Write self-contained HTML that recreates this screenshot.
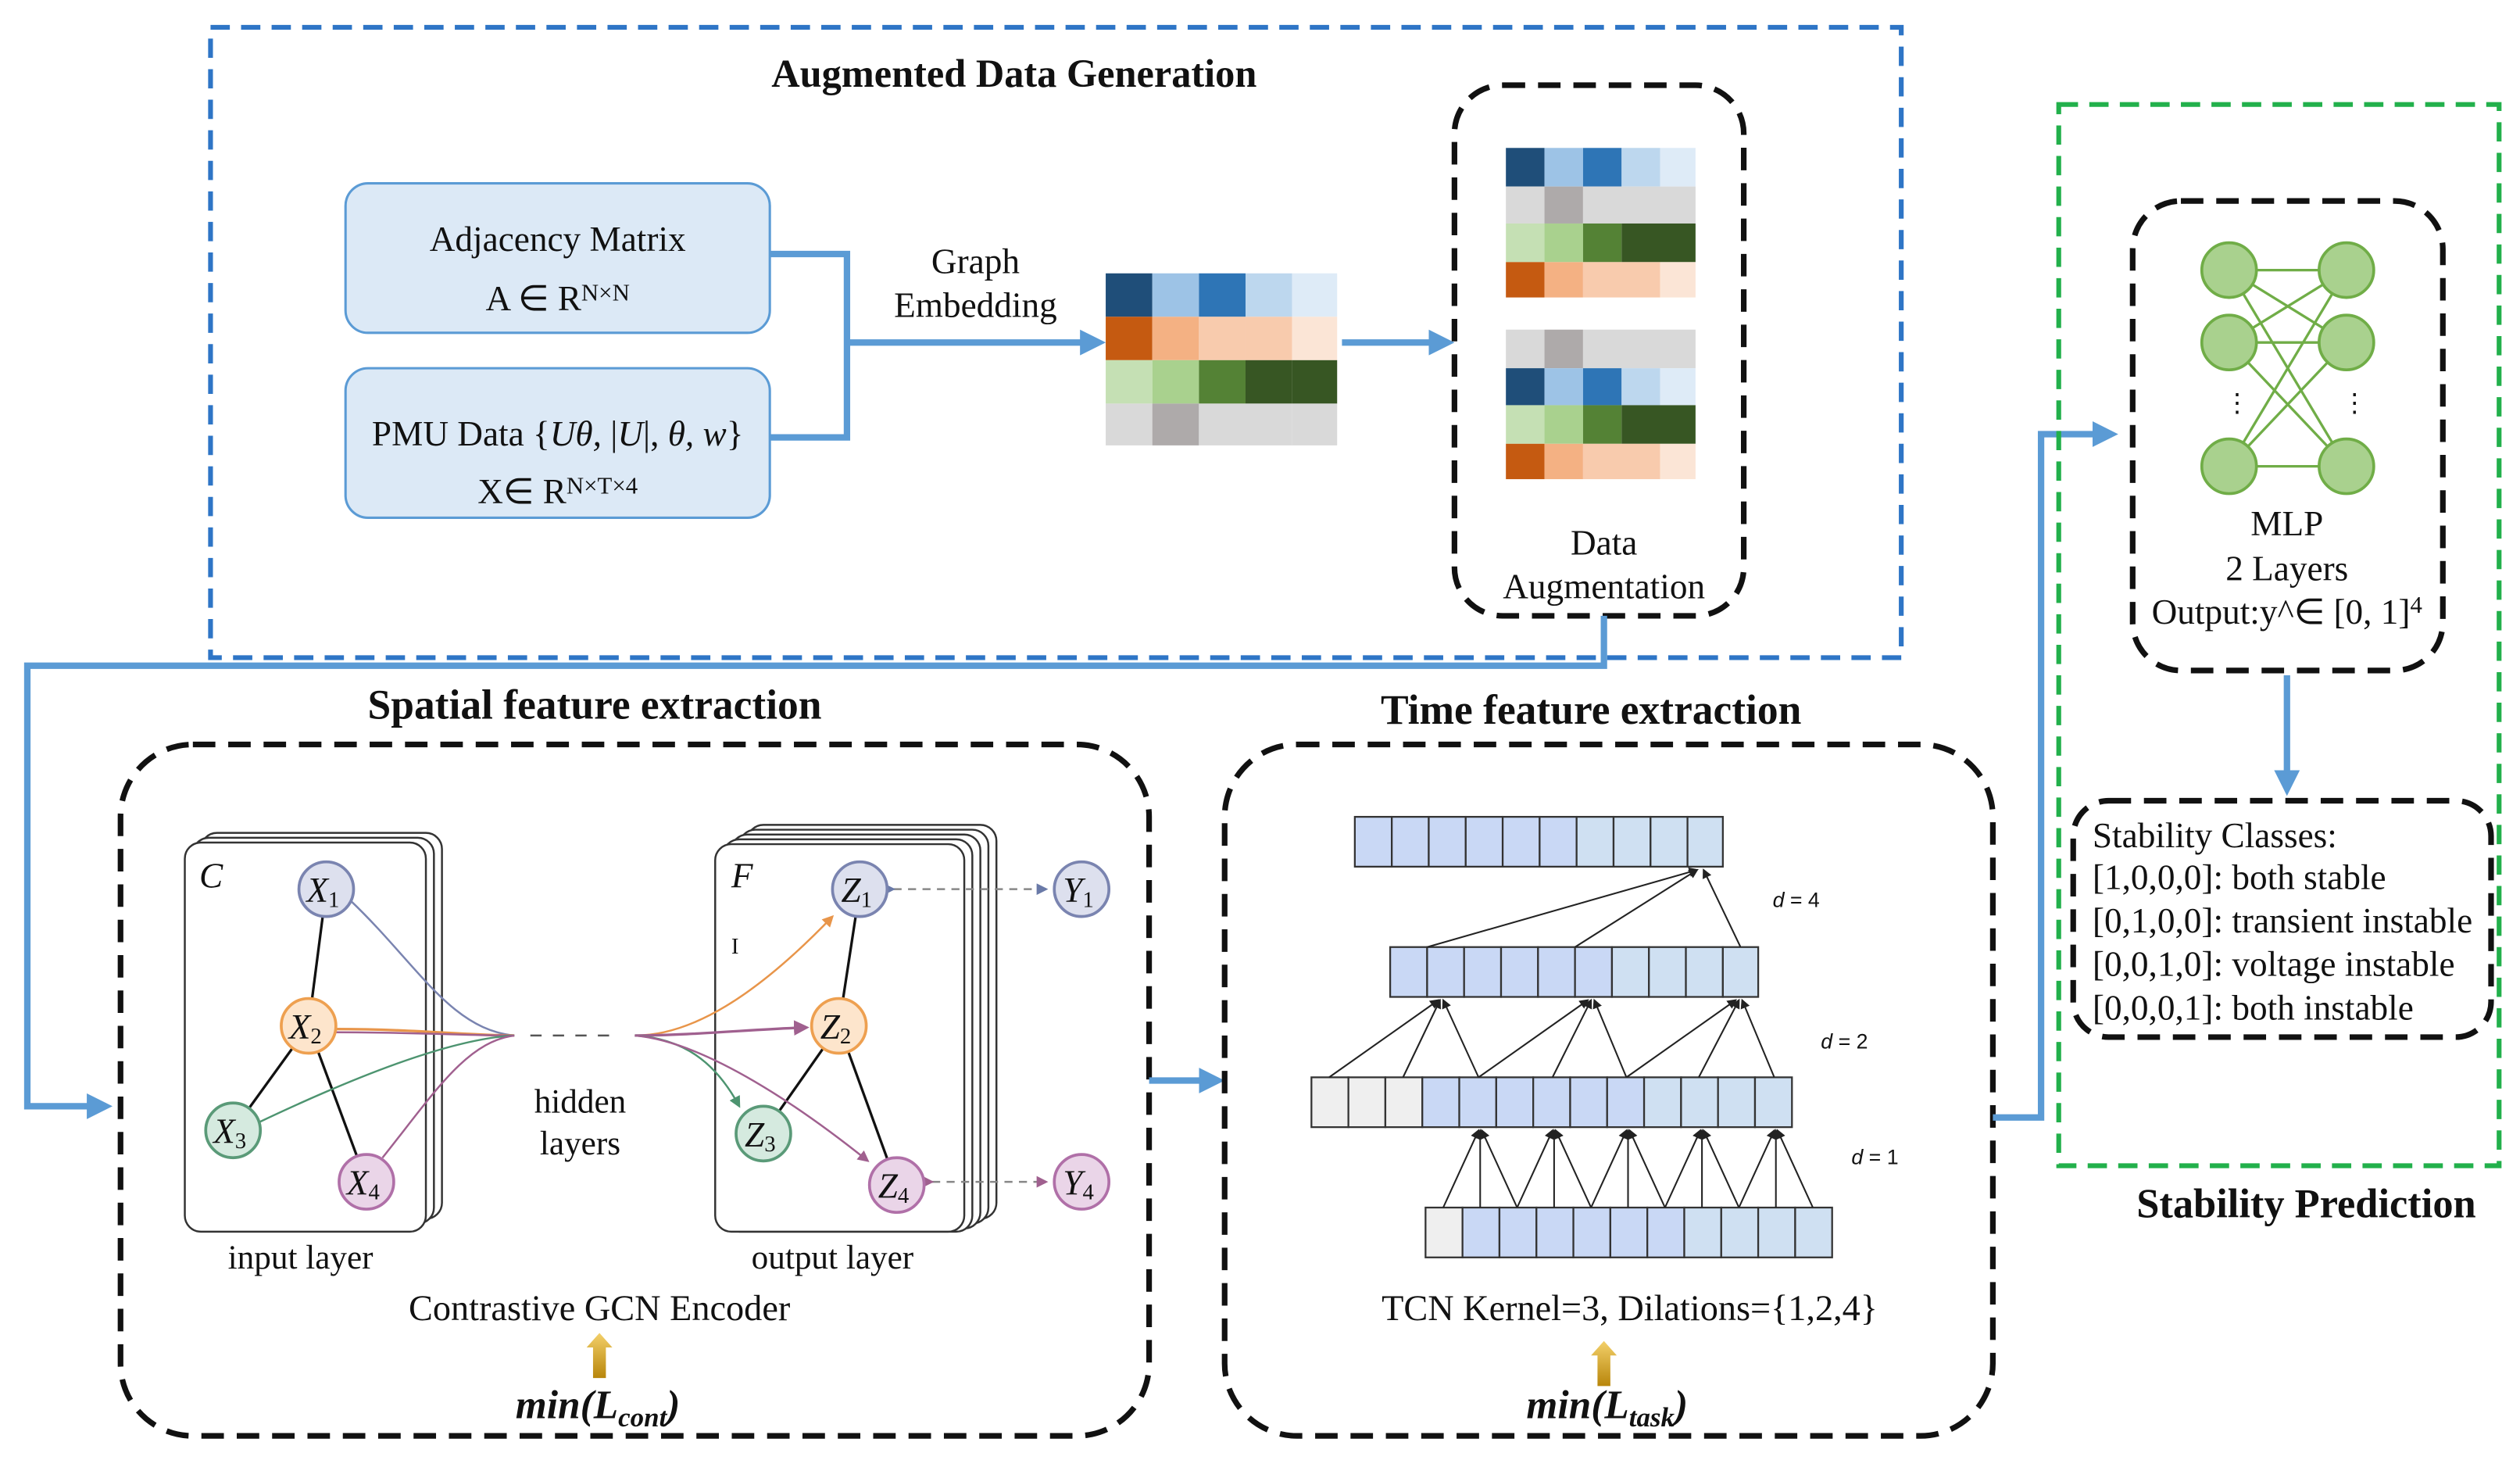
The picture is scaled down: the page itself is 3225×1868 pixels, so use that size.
<!DOCTYPE html>
<html><head><meta charset="utf-8"><style>
html,body{margin:0;padding:0;background:#fff;}
svg{display:block;}
text{font-family:"Liberation Serif","Times New Roman",serif;fill:#111;}
.b{font-weight:bold;}
</style></head><body>
<svg width="3225" height="1868" viewBox="0 0 1568 908" preserveAspectRatio="none" xmlns="http://www.w3.org/2000/svg" font-family="Liberation Serif, serif">
<defs>
<marker id="ab" markerWidth="4" markerHeight="4" refX="3" refY="2" orient="auto"><path d="M0,0 L4,2 L0,4z" fill="#5b9bd5"/></marker>
<marker id="ak" markerWidth="6" markerHeight="6" refX="5" refY="3" orient="auto"><path d="M0,0 L6,3 L0,6z" fill="#222"/></marker>
<marker id="ao" markerWidth="6" markerHeight="6" refX="5" refY="3" orient="auto"><path d="M0,0 L6,3 L0,6z" fill="#e8954a"/></marker>
<marker id="ap" markerWidth="6" markerHeight="6" refX="5" refY="3" orient="auto"><path d="M0,0 L6,3 L0,6z" fill="#a0608f"/></marker>
<marker id="ag" markerWidth="6" markerHeight="6" refX="5" refY="3" orient="auto"><path d="M0,0 L6,3 L0,6z" fill="#4d9470"/></marker>
<marker id="as" markerWidth="6" markerHeight="6" refX="5" refY="3" orient="auto"><path d="M0,0 L6,3 L0,6z" fill="#6a7aa8"/></marker>
<linearGradient id="gold" x1="0" y1="0" x2="0" y2="1"><stop offset="0" stop-color="#f3d06a"/><stop offset="1" stop-color="#b8860b"/></linearGradient>
</defs>

<!-- Augmented Data Generation -->
<rect x="131" y="17" width="1052" height="392" fill="none" stroke="#2e75c6" stroke-width="3" stroke-dasharray="12,7"/>
<text x="631" y="54" font-size="24.5" class="b" text-anchor="middle">Augmented Data Generation</text>

<rect x="215" y="114" width="264" height="93" rx="14" fill="#dce9f6" stroke="#5b9bd5" stroke-width="1.5"/>
<text x="347" y="156" font-size="22" text-anchor="middle">Adjacency Matrix</text>
<text x="347" y="193" font-size="22" text-anchor="middle">A ∈ R<tspan font-size="15" dy="-6">N×N</tspan></text>
<rect x="215" y="229" width="264" height="93" rx="14" fill="#dce9f6" stroke="#5b9bd5" stroke-width="1.5"/>
<text x="347" y="277" font-size="22" text-anchor="middle">PMU Data {<tspan font-style="italic">Uθ,</tspan> |<tspan font-style="italic">U</tspan>|,  <tspan font-style="italic">θ, w</tspan>}</text>
<text x="347" y="313" font-size="22" text-anchor="middle">X∈ R<tspan font-size="15" dy="-6">N×T×4</tspan></text>

<path d="M479,158 H527 V272 H479" fill="none" stroke="#5b9bd5" stroke-width="4"/>
<path d="M527,213 H684" fill="none" stroke="#5b9bd5" stroke-width="4" marker-end="url(#ab)"/>
<text x="607" y="170" font-size="22" text-anchor="middle">Graph</text>
<text x="607" y="197" font-size="22" text-anchor="middle">Embedding</text>

<g>
<rect x="688" y="170" width="29" height="27" fill="#1f4e79"/><rect x="717" y="170" width="29" height="27" fill="#9dc3e6"/><rect x="746" y="170" width="29" height="27" fill="#2e75b6"/><rect x="775" y="170" width="29" height="27" fill="#bdd7ee"/><rect x="804" y="170" width="28" height="27" fill="#deebf7"/>
<rect x="688" y="197" width="29" height="27" fill="#c55a11"/><rect x="717" y="197" width="29" height="27" fill="#f4b183"/><rect x="746" y="197" width="29" height="27" fill="#f8cbad"/><rect x="775" y="197" width="29" height="27" fill="#f8cbad"/><rect x="804" y="197" width="28" height="27" fill="#fbe5d6"/>
<rect x="688" y="224" width="29" height="27" fill="#c5e0b4"/><rect x="717" y="224" width="29" height="27" fill="#a9d18e"/><rect x="746" y="224" width="29" height="27" fill="#548235"/><rect x="775" y="224" width="29" height="27" fill="#375623"/><rect x="804" y="224" width="28" height="27" fill="#375623"/>
<rect x="688" y="251" width="29" height="26" fill="#d9d9d9"/><rect x="717" y="251" width="29" height="26" fill="#aeaaaa"/><rect x="746" y="251" width="29" height="26" fill="#d9d9d9"/><rect x="775" y="251" width="29" height="26" fill="#d9d9d9"/><rect x="804" y="251" width="28" height="26" fill="#d9d9d9"/>
</g>
<path d="M835,213 H901" fill="none" stroke="#5b9bd5" stroke-width="4" marker-end="url(#ab)"/>

<rect x="905" y="53" width="180" height="330" rx="30" fill="none" stroke="#111" stroke-width="3.5" stroke-dasharray="14,8"/>
<g>
<rect x="937" y="92" width="24" height="24" fill="#1f4e79"/><rect x="961" y="92" width="24" height="24" fill="#9dc3e6"/><rect x="985" y="92" width="24" height="24" fill="#2e75b6"/><rect x="1009" y="92" width="24" height="24" fill="#bdd7ee"/><rect x="1033" y="92" width="22" height="24" fill="#deebf7"/>
<rect x="937" y="116" width="24" height="23" fill="#d9d9d9"/><rect x="961" y="116" width="24" height="23" fill="#aeaaaa"/><rect x="985" y="116" width="70" height="23" fill="#d9d9d9"/>
<rect x="937" y="139" width="24" height="24" fill="#c5e0b4"/><rect x="961" y="139" width="24" height="24" fill="#a9d18e"/><rect x="985" y="139" width="24" height="24" fill="#548235"/><rect x="1009" y="139" width="46" height="24" fill="#375623"/>
<rect x="937" y="163" width="24" height="22" fill="#c55a11"/><rect x="961" y="163" width="24" height="22" fill="#f4b183"/><rect x="985" y="163" width="48" height="22" fill="#f8cbad"/><rect x="1033" y="163" width="22" height="22" fill="#fbe5d6"/>
<rect x="937" y="205" width="24" height="24" fill="#d9d9d9"/><rect x="961" y="205" width="24" height="24" fill="#aeaaaa"/><rect x="985" y="205" width="70" height="24" fill="#d9d9d9"/>
<rect x="937" y="229" width="24" height="23" fill="#1f4e79"/><rect x="961" y="229" width="24" height="23" fill="#9dc3e6"/><rect x="985" y="229" width="24" height="23" fill="#2e75b6"/><rect x="1009" y="229" width="24" height="23" fill="#bdd7ee"/><rect x="1033" y="229" width="22" height="23" fill="#deebf7"/>
<rect x="937" y="252" width="24" height="24" fill="#c5e0b4"/><rect x="961" y="252" width="24" height="24" fill="#a9d18e"/><rect x="985" y="252" width="24" height="24" fill="#548235"/><rect x="1009" y="252" width="46" height="24" fill="#375623"/>
<rect x="937" y="276" width="24" height="22" fill="#c55a11"/><rect x="961" y="276" width="24" height="22" fill="#f4b183"/><rect x="985" y="276" width="48" height="22" fill="#f8cbad"/><rect x="1033" y="276" width="22" height="22" fill="#fbe5d6"/>
</g>
<text x="998" y="345" font-size="22" text-anchor="middle">Data</text>
<text x="998" y="372" font-size="22" text-anchor="middle">Augmentation</text>

<path d="M998,383 V414 H17 V688 H66" fill="none" stroke="#5b9bd5" stroke-width="4" marker-end="url(#ab)"/>

<!-- Spatial -->
<text x="370" y="447" font-size="26" class="b" text-anchor="middle">Spatial feature extraction</text>
<rect x="75" y="463" width="640" height="430" rx="45" fill="none" stroke="#111" stroke-width="3.5" stroke-dasharray="14,8"/>

<g fill="#fff" stroke="#333" stroke-width="1.2">
<rect x="125" y="518" width="150" height="240" rx="10"/>
<rect x="120" y="521" width="150" height="240" rx="10"/>
<rect x="115" y="524" width="150" height="242" rx="10"/>
<rect x="465" y="513" width="155" height="245" rx="10"/>
<rect x="460" y="516" width="155" height="245" rx="10"/>
<rect x="455" y="519" width="155" height="245" rx="10"/>
<rect x="450" y="522" width="155" height="244" rx="10"/>
<rect x="445" y="525" width="155" height="241" rx="10"/>
</g>
<text x="124" y="552" font-size="22" font-style="italic">C</text>
<text x="455" y="552" font-size="22" font-style="italic">F</text>
<text x="455" y="593" font-size="14">I</text>
<g fill="none" stroke="#111" stroke-width="1.6">
<line x1="203" y1="553" x2="192" y2="638"/><line x1="192" y1="638" x2="145" y2="703"/><line x1="192" y1="638" x2="228" y2="735"/>
<line x1="535" y1="553" x2="522" y2="638"/><line x1="522" y1="638" x2="475" y2="705"/><line x1="522" y1="638" x2="558" y2="737"/>
</g>
<g fill="none" stroke-width="1.2">
<path d="M218,560 C260,600 280,640 320,644" stroke="#7a84b0"/>
<path d="M209,640 C260,640 290,644 320,644" stroke="#e8954a" stroke-width="1.6"/>
<path d="M209,642 C260,642 290,644 320,644" stroke="#a0608f"/>
<path d="M161,698 C220,670 280,646 320,644" stroke="#4d9470"/>
<path d="M238,720 C270,680 290,648 320,644" stroke="#a0608f"/>
<path d="M330,644 H385" stroke="#555" stroke-dasharray="7,7"/>
<path d="M395,644 C430,644 470,620 518,570" stroke="#e8954a" marker-end="url(#ao)"/>
<path d="M395,644 C430,644 470,640 502,639" stroke="#a0608f" stroke-width="1.6" marker-end="url(#ap)"/>
<path d="M395,644 C425,646 445,660 460,688" stroke="#4d9470" marker-end="url(#ag)"/>
<path d="M395,644 C440,648 500,690 540,722" stroke="#a0608f" marker-end="url(#ap)"/>
<path d="M556,553 H651" stroke="#888" stroke-dasharray="5,4" marker-start="url(#as)" marker-end="url(#as)"/>
<path d="M580,735 H651" stroke="#888" stroke-dasharray="5,4" marker-start="url(#ap)" marker-end="url(#ap)"/>
</g>
<g stroke-width="1.8">
<circle cx="203" cy="553" r="17" fill="#dde0ee" stroke="#7a84b0"/>
<circle cx="192" cy="638" r="17" fill="#fde5cc" stroke="#eea050"/>
<circle cx="145" cy="703" r="17" fill="#d5eadf" stroke="#5a9a78"/>
<circle cx="228" cy="735" r="17" fill="#ead5e8" stroke="#b070a8"/>
<circle cx="535" cy="553" r="17" fill="#dde0ee" stroke="#7a84b0"/>
<circle cx="522" cy="638" r="17" fill="#fde5cc" stroke="#eea050"/>
<circle cx="475" cy="705" r="17" fill="#d5eadf" stroke="#5a9a78"/>
<circle cx="558" cy="737" r="17" fill="#ead5e8" stroke="#b070a8"/>
<circle cx="673" cy="553" r="17" fill="#dde0ee" stroke="#7a84b0"/>
<circle cx="673" cy="735" r="17" fill="#ead5e8" stroke="#b070a8"/>
</g>
<g font-size="22" font-style="italic" text-anchor="middle">
<text x="201" y="561">X<tspan font-size="14" font-style="normal" dy="3">1</tspan></text>
<text x="190" y="646">X<tspan font-size="14" font-style="normal" dy="3">2</tspan></text>
<text x="143" y="711">X<tspan font-size="14" font-style="normal" dy="3">3</tspan></text>
<text x="226" y="743">X<tspan font-size="14" font-style="normal" dy="3">4</tspan></text>
<text x="533" y="561">Z<tspan font-size="14" font-style="normal" dy="3">1</tspan></text>
<text x="520" y="646">Z<tspan font-size="14" font-style="normal" dy="3">2</tspan></text>
<text x="473" y="713">Z<tspan font-size="14" font-style="normal" dy="3">3</tspan></text>
<text x="556" y="745">Z<tspan font-size="14" font-style="normal" dy="3">4</tspan></text>
<text x="671" y="561">Y<tspan font-size="14" font-style="normal" dy="3">1</tspan></text>
<text x="671" y="743">Y<tspan font-size="14" font-style="normal" dy="3">4</tspan></text>
</g>
<text x="361" y="692" font-size="21" text-anchor="middle" fill="#333">hidden</text>
<text x="361" y="718" font-size="21" text-anchor="middle" fill="#333">layers</text>
<text x="187" y="789" font-size="21" text-anchor="middle" fill="#333">input  layer</text>
<text x="518" y="789" font-size="21" text-anchor="middle" fill="#333">output  layer</text>
<text x="373" y="821" font-size="22.5" text-anchor="middle">Contrastive GCN Encoder</text>
<path d="M373,829 L381,838 H377 V857 H369 V838 H365 Z" fill="url(#gold)"/>
<text x="372" y="882" font-size="25" font-style="italic" class="b" text-anchor="middle">min(L<tspan font-size="17" dy="5">cont</tspan><tspan dy="-5">)</tspan></text>

<path d="M715,672 H758" fill="none" stroke="#5b9bd5" stroke-width="4" marker-end="url(#ab)"/>

<!-- Time -->
<text x="990" y="450" font-size="26" class="b" text-anchor="middle">Time feature extraction</text>
<rect x="762" y="463" width="478" height="430" rx="45" fill="none" stroke="#111" stroke-width="3.5" stroke-dasharray="14,8"/>
<g stroke="#333" stroke-width="1.1">
<g fill="#c9d8f5">
<rect x="843" y="508" width="23" height="31"/><rect x="866" y="508" width="23" height="31"/><rect x="889" y="508" width="23" height="31"/><rect x="912" y="508" width="23" height="31"/><rect x="935" y="508" width="23" height="31"/><rect x="958" y="508" width="23" height="31"/>
</g>
<g fill="#cfe0f2"><rect x="981" y="508" width="23" height="31"/><rect x="1004" y="508" width="23" height="31"/><rect x="1027" y="508" width="23" height="31"/><rect x="1050" y="508" width="22" height="31"/></g>
<g fill="#c9d8f5">
<rect x="865" y="589" width="23" height="31"/><rect x="888" y="589" width="23" height="31"/><rect x="911" y="589" width="23" height="31"/><rect x="934" y="589" width="23" height="31"/><rect x="957" y="589" width="23" height="31"/><rect x="980" y="589" width="23" height="31"/>
</g>
<g fill="#cfe0f2"><rect x="1003" y="589" width="23" height="31"/><rect x="1026" y="589" width="23" height="31"/><rect x="1049" y="589" width="23" height="31"/><rect x="1072" y="589" width="22" height="31"/></g>
<g fill="#efefef"><rect x="816" y="670" width="23" height="31"/><rect x="839" y="670" width="23" height="31"/><rect x="862" y="670" width="23" height="31"/></g>
<g fill="#c9d8f5"><rect x="885" y="670" width="23" height="31"/><rect x="908" y="670" width="23" height="31"/><rect x="931" y="670" width="23" height="31"/><rect x="954" y="670" width="23" height="31"/><rect x="977" y="670" width="23" height="31"/><rect x="1000" y="670" width="23" height="31"/></g>
<g fill="#cfe0f2"><rect x="1023" y="670" width="23" height="31"/><rect x="1046" y="670" width="23" height="31"/><rect x="1069" y="670" width="23" height="31"/><rect x="1092" y="670" width="23" height="31"/></g>
<g fill="#efefef"><rect x="887" y="751" width="23" height="31"/></g>
<g fill="#c9d8f5"><rect x="910" y="751" width="23" height="31"/><rect x="933" y="751" width="23" height="31"/><rect x="956" y="751" width="23" height="31"/><rect x="979" y="751" width="23" height="31"/><rect x="1002" y="751" width="23" height="31"/><rect x="1025" y="751" width="23" height="31"/></g>
<g fill="#cfe0f2"><rect x="1048" y="751" width="23" height="31"/><rect x="1071" y="751" width="23" height="31"/><rect x="1094" y="751" width="23" height="31"/><rect x="1117" y="751" width="23" height="31"/></g>
</g>
<g stroke="#222" stroke-width="1" fill="none" marker-end="url(#ak)">
<line x1="888" y1="589" x2="1056" y2="541"/><line x1="980" y1="589" x2="1056" y2="541"/><line x1="1083" y1="589" x2="1060" y2="541"/>
<line x1="827" y1="670" x2="895" y2="622"/><line x1="873" y1="670" x2="896" y2="622"/><line x1="920" y1="670" x2="898" y2="622"/>
<line x1="920" y1="670" x2="988" y2="622"/><line x1="966" y1="670" x2="990" y2="622"/><line x1="1012" y1="670" x2="992" y2="622"/>
<line x1="1012" y1="670" x2="1080" y2="622"/><line x1="1057" y1="670" x2="1082" y2="622"/><line x1="1104" y1="670" x2="1084" y2="622"/>
<line x1="898" y1="751" x2="920" y2="703"/><line x1="921" y1="751" x2="921" y2="703"/><line x1="944" y1="751" x2="922" y2="703"/>
<line x1="944" y1="751" x2="966" y2="703"/><line x1="967" y1="751" x2="967" y2="703"/><line x1="990" y1="751" x2="968" y2="703"/>
<line x1="990" y1="751" x2="1012" y2="703"/><line x1="1013" y1="751" x2="1013" y2="703"/><line x1="1036" y1="751" x2="1014" y2="703"/>
<line x1="1036" y1="751" x2="1058" y2="703"/><line x1="1059" y1="751" x2="1059" y2="703"/><line x1="1082" y1="751" x2="1060" y2="703"/>
<line x1="1082" y1="751" x2="1104" y2="703"/><line x1="1105" y1="751" x2="1105" y2="703"/><line x1="1128" y1="751" x2="1106" y2="703"/>
</g>
<text x="1103" y="564" font-size="13" style="font-family:'Liberation Sans',sans-serif"><tspan font-style="italic">d</tspan> = 4</text>
<text x="1133" y="652" font-size="13" style="font-family:'Liberation Sans',sans-serif"><tspan font-style="italic">d</tspan> = 2</text>
<text x="1152" y="724" font-size="13" style="font-family:'Liberation Sans',sans-serif"><tspan font-style="italic">d</tspan> = 1</text>
<text x="1014" y="821" font-size="22.5" text-anchor="middle">TCN  Kernel=3, Dilations={1,2,4}</text>
<path d="M998,834 L1006,843 H1002 V862 H994 V843 H990 Z" fill="url(#gold)"/>
<text x="1000" y="882" font-size="25" font-style="italic" class="b" text-anchor="middle">min(L<tspan font-size="17" dy="5">task</tspan><tspan dy="-5">)</tspan></text>

<path d="M1240,695 H1270 V270 H1314" fill="none" stroke="#5b9bd5" stroke-width="4" marker-end="url(#ab)"/>

<!-- Stability -->
<rect x="1281" y="65" width="274" height="660" fill="none" stroke="#22b04b" stroke-width="3" stroke-dasharray="12,7"/>
<text x="1435" y="757" font-size="25.5" class="b" text-anchor="middle">Stability Prediction</text>
<rect x="1327" y="125" width="193" height="292" rx="30" fill="none" stroke="#111" stroke-width="3.5" stroke-dasharray="14,8"/>
<g stroke="#70ad47" stroke-width="1.6">
<line x1="1387" y1="168" x2="1460" y2="168"/><line x1="1387" y1="168" x2="1460" y2="213"/><line x1="1387" y1="168" x2="1460" y2="290"/>
<line x1="1387" y1="213" x2="1460" y2="168"/><line x1="1387" y1="213" x2="1460" y2="213"/><line x1="1387" y1="213" x2="1460" y2="290"/>
<line x1="1387" y1="290" x2="1460" y2="168"/><line x1="1387" y1="290" x2="1460" y2="213"/><line x1="1387" y1="290" x2="1460" y2="290"/>
</g>
<g fill="#a9d18e" stroke="#70ad47" stroke-width="1.8">
<circle cx="1387" cy="168" r="17"/><circle cx="1460" cy="168" r="17"/>
<circle cx="1387" cy="213" r="17"/><circle cx="1460" cy="213" r="17"/>
<circle cx="1387" cy="290" r="17"/><circle cx="1460" cy="290" r="17"/>
</g>
<text x="1384" y="256" font-size="16">⋮</text><text x="1457" y="256" font-size="16">⋮</text>
<text x="1423" y="333" font-size="22" text-anchor="middle">MLP</text>
<text x="1423" y="361" font-size="22" text-anchor="middle">2 Layers</text>
<text x="1423" y="388" font-size="22" text-anchor="middle">Output:y^∈ [0, 1]<tspan font-size="15" dy="-7">4</tspan></text>
<path d="M1423,420 V491" fill="none" stroke="#5b9bd5" stroke-width="4" marker-end="url(#ab)"/>
<rect x="1290" y="498" width="260" height="147" rx="22" fill="none" stroke="#111" stroke-width="3.5" stroke-dasharray="14,8"/>
<g font-size="22">
<text x="1302" y="527">Stability Classes:</text>
<text x="1302" y="553">[1,0,0,0]: both stable</text>
<text x="1302" y="580">[0,1,0,0]: transient instable</text>
<text x="1302" y="607">[0,0,1,0]: voltage instable</text>
<text x="1302" y="634">[0,0,0,1]: both instable</text>
</g>
</svg>
</body></html>
